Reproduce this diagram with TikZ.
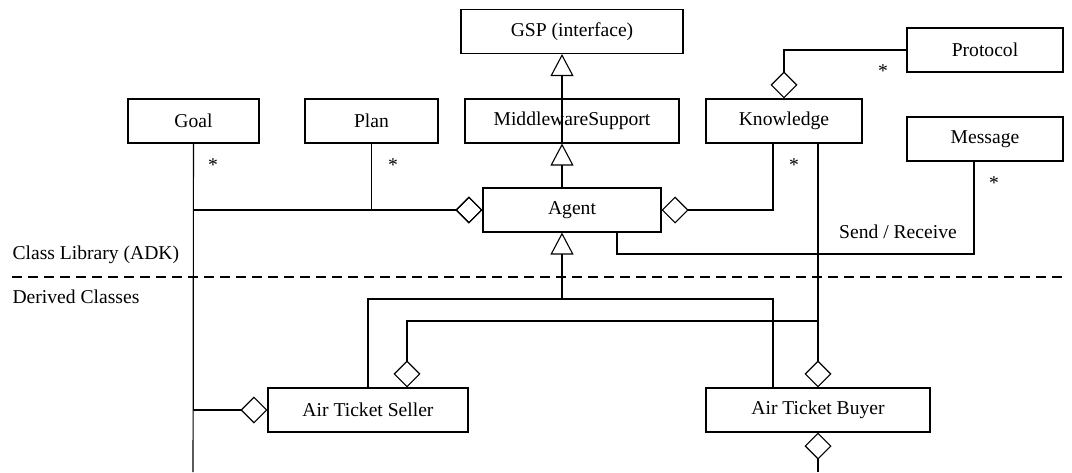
\documentclass[tikz,border=0pt]{standalone}
\usepackage{fontspec}
\setmainfont{Liberation Serif}
\usetikzlibrary{arrows.meta}

\begin{document}
\begin{tikzpicture}[x=0.5pt, y=-0.5pt, line width=0.55pt,
    cls/.style = {draw, minimum height=22pt, inner sep=0pt, font=\fontsize{9.8}{12}\selectfont},
    lbl/.style = {font=\fontsize{9.8}{12}\selectfont, inner sep=0pt},
    agg/.style = {-{Diamond[open, length=13.5pt, width=13.5pt]}},
    inh/.style = {-{Triangle[open, length=11pt, width=11.5pt]}}]

    \useasboundingbox (0,0) rectangle (1072,472);

    % library classes
    \node[cls, minimum width=111pt] (gsp)   at (572, 31.5) {GSP (interface)};
    \node[cls, minimum width=107pt] (mws)   at (572, 121)  {MiddlewareSupport};
    \node[cls, minimum width=65.5pt] (goal) at (193.5, 121) {Goal};
    \node[cls, minimum width=66.5pt] (plan) at (371.5, 121) {Plan};
    \node[cls, minimum width=78pt] (know)   at (784, 121)  {Knowledge};
    \node[cls, minimum width=78pt] (proto)  at (985, 50)   {Protocol};
    \node[cls, minimum width=78pt] (msg)    at (985, 139)  {Message};
    \node[cls, minimum width=89pt] (agent)  at (572, 210)  {Agent};

    % derived classes
    \node[cls, minimum width=100pt] (seller) at (368, 410) {Air Ticket Seller};
    \node[cls, minimum width=112pt] (buyer)  at (818, 410) {Air Ticket Buyer};

    \draw[line width=1pt, dash pattern=on 5pt off 3pt] (12,277) -- (1066,277);
    \node[lbl, anchor=west] (libtxt) at (12,255) {Class Library (ADK)};
    \node[lbl, anchor=west] (dertxt) at (12,297) {Derived Classes};

    \coordinate (goalend) at (193,472);
    \coordinate (buyend)  at (818,472);
    \coordinate (inhjoin) at (562,299);
    \coordinate (kjoin)   at (818,321);
    \coordinate (sndrcv)  at (617,254);

    % generalisation
    \draw[inh] ([xshift=-5pt]mws.south) -- ([xshift=-5pt]gsp.south);
    \draw[inh] ([xshift=-5pt]agent.north) -- ([xshift=-5pt]mws.south);
    \draw (seller.north) |- (inhjoin);
    \draw ([xshift=-22.5pt]buyer.north) |- (inhjoin);
    \draw[inh] (inhjoin) -- ([xshift=-5pt]agent.south);

    % aggregation
    \draw (goal.south) -- (goalend);
    \draw[agg] (goal.south) |- (agent.west);
    \draw[agg] (plan.south) |- (agent.west);
    \draw[agg] (goal.south) |- (seller.west);
    \draw[agg] ([xshift=-5.5pt]know.south) |- (agent.east);
    \draw[agg] (proto.west) -| (know.north);
    \draw[agg] ([xshift=17pt]know.south) -- (buyer.north);
    \draw[agg] (kjoin) -| ([xshift=19.5pt]seller.north);
    \draw[agg] (buyend) -- (buyer.south);

    % messages
    \draw ([xshift=-5.5pt]msg.south) |- (sndrcv) -- ([xshift=22.5pt]agent.south);
    \node[lbl] (sr) at (898,232) {Send / Receive};

    % multiplicities
    \node[lbl] (s1) at (213,165) {*};
    \node[lbl] (s2) at (393,165) {*};
    \node[lbl] (s3) at (794,165) {*};
    \node[lbl] (s4) at (994,183) {*};
    \node[lbl] (s5) at (883,71)  {*};
\end{tikzpicture}
\end{document}
